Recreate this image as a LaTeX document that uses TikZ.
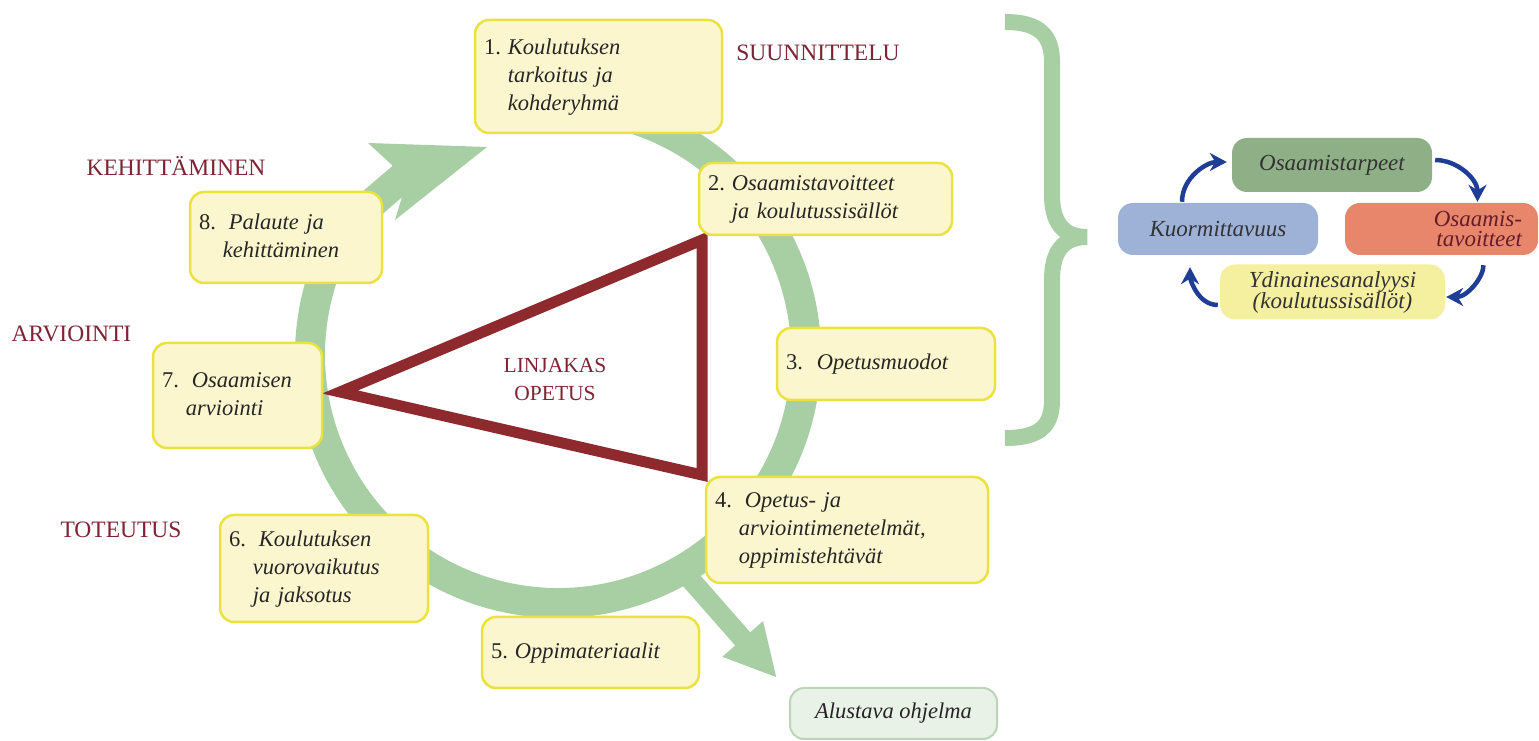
\documentclass[tikz,border=0pt]{standalone}
\usepackage{fontspec}
\setmainfont{Liberation Serif}
\usetikzlibrary{arrows.meta,calc}

\definecolor{ringgreen}{RGB}{168,206,163}
\definecolor{boxfill}{RGB}{252,246,206}
\definecolor{boxline}{RGB}{234,226,62}
\definecolor{maroon}{RGB}{126,36,52}
\definecolor{trired}{RGB}{142,42,46}
\definecolor{draftfill}{RGB}{233,242,230}
\definecolor{draftline}{RGB}{188,212,184}
\definecolor{needgreen}{RGB}{143,176,134}
\definecolor{needblue}{RGB}{158,178,216}
\definecolor{needred}{RGB}{232,134,108}
\definecolor{needyellow}{RGB}{245,239,160}
\definecolor{cyclearrow}{RGB}{30,62,150}

\newcommand{\numitem}[2]{%
  \begin{tabular}[t]{@{}l@{\hspace{7pt}}l@{}}\textup{#1} & \begin{tabular}[t]{@{}l@{}}#2\end{tabular}\end{tabular}}

\tikzset{
  stepbox/.style={draw=boxline, fill=boxfill, line width=2.5pt, rounded corners=14pt,
    inner xsep=9pt, inner ysep=0pt, align=left, text=black!85,
    font=\fontsize{22.5}{28}\selectfont\itshape},
  phase/.style={text=maroon, font=\fontsize{23.5}{28}\selectfont},
  needbox/.style={rounded corners=15pt, inner sep=2pt, align=center, text=black!80,
    font=\fontsize{23}{21}\selectfont\itshape},
  cyc/.style={cyclearrow, line width=4.5pt, -{Stealth[length=17pt,width=18pt]}},
  ring/.style={ringgreen, line width=30pt},
}

\begin{document}
\begin{tikzpicture}[x=1pt,y=1pt]
  \useasboundingbox (0,0) rectangle (1539,741);
  \coordinate (c) at (558,386);
  \coordinate (shaft) at (405,566);
  % the cycle
  \draw[ring] (c) ++(78:248) arc[start angle=78, end angle=-200, radius=248]
    to[out=70,in=221] (shaft);
  \fill[ringgreen] (392,576) -- (368,598) -- (487,594) -- (395,521) -- (402,544) -- cycle;
  \coordinate (exit) at ($(c)+(-60:248)$);
  \coordinate (outtip) at (777,63);
  \draw[ringgreen, line width=20pt, -{Triangle[length=52pt,width=50pt]}] (exit) -- (outtip);

  % triangle
  \draw[trired, line width=11pt, line join=miter] (340,349) -- (702,501) -- (702,266) -- cycle;
  \node[text=maroon, align=center, font=\fontsize{21.5}{28}\selectfont] (core) at (555,362) {LINJAKAS\\OPETUS};

  % steps
  \node[stepbox, text width=229pt, minimum height=113pt] (s1) at (598.5,664.5)
    {\numitem{1.}{Koulutuksen\\tarkoitus ja\\kohderyhmä}};
  \node[stepbox, text width=235pt, minimum height=72pt] (s2) at (825.5,542)
    {\numitem{2.}{Osaamistavoitteet\\ja koulutussisällöt}};
  \node[stepbox, text width=200pt, minimum height=72pt] (s3) at (886,377)
    {\numitem{3.}{\hspace{7pt}Opetusmuodot}};
  \node[stepbox, text width=264pt, minimum height=106pt] (s4) at (847,211)
    {\numitem{4.}{\hspace{6pt}Opetus- ja\\arviointimenetelmät,\\oppimistehtävät}};
  \node[stepbox, text width=199pt, minimum height=71pt] (s5) at (590.5,88.5)
    {\numitem{5.}{Oppimateriaalit}};
  \node[stepbox, text width=190pt, minimum height=107pt] (s6) at (324,172.5)
    {\numitem{6.}{\hspace{6pt}Koulutuksen\\vuorovaikutus\\ja jaksotus}};
  \node[stepbox, text width=151pt, minimum height=105pt] (s7) at (237.5,345.5)
    {\numitem{7.}{\hspace{6pt}Osaamisen\\arviointi}};
  \node[stepbox, text width=174pt, minimum height=91pt] (s8) at (286,503.5)
    {\numitem{8.}{\hspace{6pt}Palaute ja\\kehittäminen}};
  \node[stepbox, draw=draftline, fill=draftfill, line width=2pt, align=center,
    minimum width=207pt, minimum height=51pt] (draft) at (893.5,27.5) {Alustava ohjelma};

  % phases
  \node[phase] (suun) at (818,688) {SUUNNITTELU};
  \node[phase] (kehi) at (176,575) {KEHITTÄMINEN};
  \node[phase] (arvi) at (71.5,407) {ARVIOINTI};
  \node[phase] (tote) at (121,211) {TOTEUTUS};

  % brace
  \draw[ringgreen, line width=16pt]
    (1005,719) .. controls (1040,719) and (1052,705) .. (1052,679) -- (1052,546)
    .. controls (1052,520) and (1062,504) .. (1087,504)
    .. controls (1062,504) and (1052,488) .. (1052,461) -- (1052,341)
    .. controls (1052,315) and (1040,303) .. (1005,303);

  % needs cycle
  \node[needbox, fill=needgreen, minimum width=200pt, minimum height=54pt] (tarp) at (1332,576) {Osaamistarpeet};
  \node[needbox, fill=needblue, minimum width=200pt, minimum height=52pt] (kuo) at (1218,512) {Kuormittavuus};
  \node[needbox, fill=needred, text=maroon!80!black, align=right, inner xsep=16pt,
    text width=161pt, minimum height=52pt, font=\fontsize{23}{20}\selectfont\itshape] (tav) at (1441.5,512) {Osaamis-\\tavoitteet};
  \node[needbox, fill=needyellow, minimum width=225pt, minimum height=55pt] (ydin) at (1332.5,449)
    {Ydinainesanalyysi\\(koulutussisällöt)};
  \draw[cyc, shorten <=1pt, shorten >=5pt] ([xshift=-36pt]kuo.north) to[out=90,in=180] ([yshift=3pt]tarp.west);
  \draw[cyc, shorten <=3pt, shorten >=1pt] ([yshift=5pt]tarp.east) to[out=0,in=90] ([xshift=36pt]tav.north);
  \draw[cyc, shorten <=10pt, shorten >=1pt] ([xshift=42pt]tav.south) to[out=-90,in=0] ([yshift=-5pt]ydin.east);
  \draw[cyc, shorten <=2pt, shorten >=12pt] ([yshift=-13pt]ydin.west) to[out=180,in=-90] ([xshift=-28pt]kuo.south);
\end{tikzpicture}
\end{document}
